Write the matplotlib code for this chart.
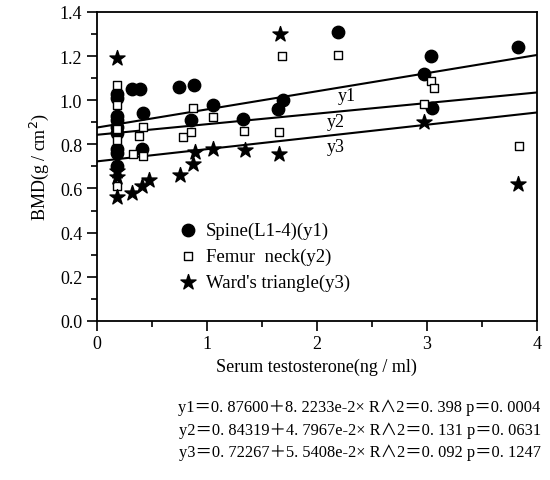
import matplotlib
matplotlib.use("Agg")
import matplotlib.pyplot as plt
from matplotlib.ticker import MultipleLocator
import numpy as np

plt.rcParams['font.family'] = ['Liberation Serif', 'Noto Sans CJK SC', 'DejaVu Serif']

# Spine (L1-4), filled circles
spine_x = [0.18, 0.18, 0.18, 0.18, 0.18, 0.18, 0.18, 0.18, 0.18,
           0.32, 0.39, 0.42, 0.41, 0.75, 0.88, 0.86, 1.06, 1.33, 1.65, 1.69,
           2.19, 2.975, 3.04, 3.05, 3.83]
spine_y = [1.03, 1.01, 0.93, 0.91, 0.88, 0.85, 0.78, 0.76, 0.70,
           1.05, 1.05, 0.94, 0.78, 1.06, 1.07, 0.91, 0.98, 0.915, 0.96, 1.00,
           1.31, 1.12, 1.20, 0.965, 1.24]

# Femur neck, open squares
femur_x = [0.18, 0.18, 0.18, 0.18, 0.18, 0.33, 0.385, 0.42, 0.42, 0.78,
           0.86, 0.87, 1.06, 1.34, 1.66, 1.68, 2.19, 2.975, 3.04, 3.07, 3.84]
femur_y = [1.07, 0.98, 0.87, 0.82, 0.61, 0.755, 0.837, 0.877, 0.749, 0.835,
           0.855, 0.965, 0.926, 0.861, 0.858, 1.20, 1.205, 0.983, 1.089, 1.056, 0.794]

# Ward's triangle, stars
ward_x = [0.18, 0.18, 0.18, 0.18, 0.32, 0.41, 0.47, 0.76, 0.87, 0.89,
          1.06, 1.35, 1.66, 1.67, 2.97, 3.83]
ward_y = [1.19, 0.68, 0.65, 0.56, 0.58, 0.61, 0.64, 0.66, 0.71, 0.764,
          0.78, 0.776, 0.757, 1.30, 0.903, 0.62]

# regression fits
fit_names = ['y1', 'y2', 'y3']
fit_a = [0.87600, 0.84319, 0.72267]
fit_b = [8.2233e-2, 4.7967e-2, 5.5408e-2]
fit_text = ['y1＝0. 87600＋8. 2233e-2× R∧2＝0. 398 p＝0. 0004',
            'y2＝0. 84319＋4. 7967e-2× R∧2＝0. 131 p＝0. 0631',
            'y3＝0. 72267＋5. 5408e-2× R∧2＝0. 092 p＝0. 1247']
label_pos = [(2.27, 1.02), (2.17, 0.905), (2.17, 0.79)]

fig = plt.figure(figsize=(5.5, 4.81), dpi=100)
ax = fig.add_axes([0.176, 0.331, 0.80, 0.642])

ax.scatter(spine_x, spine_y, s=80, marker='o', color='black', label='Spine(L1-4)(y1)', zorder=3)
ax.scatter(femur_x, femur_y, s=30, marker='s', facecolor='white', edgecolor='black',
           linewidth=1.0, label='Femur  neck(y2)', zorder=3)
ax.scatter(ward_x, ward_y, s=130, marker='*', color='black', label="Ward's triangle(y3)", zorder=3)

xs = np.array([0, 4])
for name, a, b, (lx, ly) in zip(fit_names, fit_a, fit_b, label_pos):
    ax.plot(xs, a + b * xs, color='black', lw=1.5, zorder=2)
    ax.text(lx, ly, name, fontsize=13, ha='center', va='center')

ax.set_xlim(0, 4)
ax.set_ylim(0, 1.4)
ax.xaxis.set_major_locator(MultipleLocator(1))
ax.xaxis.set_minor_locator(MultipleLocator(0.5))
ax.yaxis.set_major_locator(MultipleLocator(0.2))
ax.yaxis.set_minor_locator(MultipleLocator(0.1))
ax.yaxis.set_major_formatter(plt.FormatStrFormatter('%.1f'))
ax.tick_params(which='both', direction='out', labelsize=13, width=1.2)
ax.tick_params(which='major', length=7)
ax.tick_params(which='minor', length=4)
for sp in ax.spines.values():
    sp.set_linewidth(1.3)

ax.set_xlabel('Serum testosterone(ng / ml)', fontsize=13, labelpad=4)
ax.set_ylabel('BMD(g / cm$^2$)', fontsize=13, labelpad=6)

ax.legend(loc='upper left', bbox_to_anchor=(0.158, 0.345), frameon=False,
          fontsize=13.5, handletextpad=0.2, handlelength=1.5,
          labelspacing=0.45, borderaxespad=0)

for i, t in enumerate(fit_text):
    fig.text(0.983, 0.152 - i * 0.047, t, fontsize=11.8, ha='right', va='center')

fig.savefig('out.png', dpi=100)
